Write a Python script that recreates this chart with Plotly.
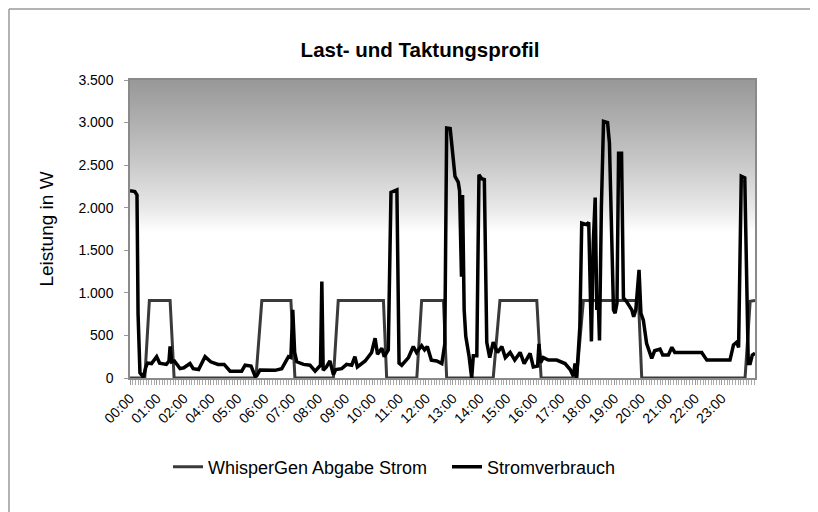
import plotly.graph_objects as go

# Category tick labels (note: 03:00 is absent in the original chart)
tick_labels = ["00:00", "01:00", "02:00", "04:00", "05:00", "06:00", "07:00", "08:00",
               "09:00", "10:00", "11:00", "12:00", "13:00", "14:00", "15:00", "16:00",
               "17:00", "18:00", "19:00", "20:00", "21:00", "22:00", "23:00"]
tick_pos = list(range(len(tick_labels)))
x_end = 23.23

# Stromverbrauch (W) - position in label units, value
strom_x = [0.00, 0.18, 0.26, 0.30, 0.37, 0.50, 0.58, 0.65, 0.80, 0.99, 1.10, 1.35, 1.45, 1.49, 1.55,
           1.65, 1.86, 2.00, 2.23, 2.35, 2.55, 2.79, 3.00, 3.27, 3.50, 3.72, 4.15, 4.28, 4.50, 4.65,
           4.72, 4.83, 5.39, 5.64, 5.89, 5.98, 6.05, 6.12, 6.20, 6.45, 6.69, 6.88, 7.08, 7.13, 7.18,
           7.30, 7.43, 7.56, 7.65, 7.87, 8.05, 8.24, 8.36, 8.45, 8.74, 8.98, 9.11, 9.20, 9.36, 9.45,
           9.60, 9.70, 9.92, 10.00, 10.10, 10.35, 10.53, 10.65, 10.84, 10.95, 11.05, 11.20, 11.40,
           11.59, 11.70, 11.77, 11.90, 12.00, 12.08, 12.20, 12.25, 12.32, 12.36, 12.42, 12.48, 12.60,
           12.70, 12.76, 12.89, 12.97, 13.07, 13.17, 13.26, 13.37, 13.50, 13.66, 13.82, 13.95, 14.13,
           14.30, 14.50, 14.65, 14.87, 14.99, 15.06, 15.15, 15.20, 15.26, 15.36, 15.55, 15.86, 16.17,
           16.36, 16.48, 16.54, 16.60, 16.72, 16.79, 16.98, 17.05, 17.15, 17.22, 17.29, 17.35, 17.40,
           17.45, 17.52, 17.60, 17.75, 17.82, 17.97, 18.03, 18.10, 18.16, 18.27, 18.34, 18.45, 18.65,
           18.72, 18.80, 18.92, 18.99, 19.08, 19.20, 19.39, 19.50, 19.70, 19.80, 20.01, 20.14, 20.25,
           20.45, 21.25, 21.44, 22.30, 22.43, 22.55, 22.62, 22.72, 22.85, 22.92, 22.98, 23.05, 23.13,
           23.23]
strom_y = [2200, 2190, 2150, 750, 60, 10, 120, 175, 170, 250, 175, 160, 200, 370, 190,
           200, 110, 120, 170, 110, 100, 250, 190, 160, 160, 80, 80, 150, 140, 20,
           30, 95, 90, 110, 250, 240, 800, 300, 190, 160, 150, 80, 150, 1133, 90,
           130, 200, 40, 100, 110, 160, 150, 250, 130, 200, 300, 467, 280, 350, 250,
           330, 2180, 2210, 175, 150, 240, 370, 300, 380, 330, 370, 210, 200,
           170, 400, 2936, 2930, 2600, 2367, 2300, 2200, 1190, 2150, 800, 490, 260,
           0, 260, 260, 2387, 2340, 2330, 420, 240, 420, 300, 370, 240, 300,
           210, 300, 170, 290, 130, 130, 140, 400, 180, 240, 210, 210, 170,
           100, 20, 170, 0, 600, 1820, 1800, 1830, 430, 1590, 2120, 800, 950,
           440, 2000, 3015, 3000, 2760, 800, 760, 880, 2640, 2640, 940, 900, 800,
           720, 800, 1270, 760, 680, 408, 230, 320, 340, 270, 270, 360, 300,
           300, 300, 210, 210, 388, 420, 360, 2370, 2350, 1390, 170, 170, 270,
           290]

# WhisperGen Abgabe Strom (W)
whisper_x = [0.00, 0.55, 0.72, 1.49, 1.64, 4.68, 4.90, 5.98, 6.13, 7.56, 7.74, 9.42, 9.54,
             10.66, 10.84, 11.65, 11.77, 13.50, 13.75, 15.12, 15.28, 16.60, 16.85, 18.90,
             19.02, 22.86, 23.05, 23.23]
whisper_y = [0, 0, 910, 910, 0, 0, 910, 910, 0, 0, 910, 910, 0,
             0, 910, 910, 0, 0, 910, 910, 0, 0, 910, 910,
             0, 0, 900, 910]

FONT = "Arial, Liberation Sans, sans-serif"
W, H = 810, 504

fig = go.Figure()

# gradient plot background
fig.add_trace(go.Scatter(
    x=[0, x_end, x_end, 0, 0], y=[0, 0, 3500, 3500, 0],
    mode="lines", fill="toself", line=dict(width=0),
    fillgradient=dict(type="vertical", start=0, stop=3500,
                      colorscale=[[0, "rgb(255,255,255)"], [0.49, "rgb(255,255,255)"],
                                  [0.57, "rgb(232,232,232)"], [0.714, "rgb(202,202,202)"],
                                  [0.857, "rgb(176,176,176)"], [1, "rgb(152,152,152)"]]),
    hoverinfo="skip", showlegend=False))

fig.add_trace(go.Scatter(x=whisper_x, y=whisper_y, mode="lines",
                         name="WhisperGen Abgabe Strom",
                         line=dict(color="#3a3a3a", width=3)))
fig.add_trace(go.Scatter(x=strom_x, y=strom_y, mode="lines",
                         name="Stromverbrauch",
                         line=dict(color="#000000", width=3.5)))

fig.update_layout(
    width=W, height=H,
    margin=dict(l=122, r=63, t=72, b=134),
    paper_bgcolor="white", plot_bgcolor="white",
    separators=",.",
    font=dict(family=FONT, color="black", size=13),
    title=dict(text="<b>Last- und Taktungsprofil</b>", x=412 / W, xanchor="center",
               y=1 - 42 / H, yanchor="middle", font=dict(size=20.5, family=FONT)),
    xaxis=dict(range=[0, x_end], tickvals=tick_pos, ticktext=tick_labels,
               tickangle=-45, showgrid=False, zeroline=False,
               showline=True, linecolor="#8a8a8a", linewidth=1.5, mirror=True,
               ticks="outside", ticklen=5, tickcolor="#9a9a9a",
               minor=dict(dtick=0.1, tick0=0, ticks="outside", ticklen=5, tickcolor="#aaaaaa"),
               tickfont=dict(size=14, family=FONT)),
    yaxis=dict(range=[0, 3500], dtick=500, tickformat=",d", showgrid=False,
               zeroline=False, showline=True, linecolor="#8a8a8a", linewidth=1.5, mirror=True,
               ticks="outside", ticklen=4, tickcolor="#9a9a9a", ticklabelstandoff=8,
               tickfont=dict(size=14, family=FONT),
               title=dict(text="Leistung in W", font=dict(size=19, family=FONT), standoff=20)),
    legend=dict(orientation="h", x=0.0608, xanchor="left", y=-0.2987, yanchor="middle",
                entrywidth=234, entrywidthmode="pixels",
                font=dict(size=18, family=FONT), bgcolor="rgba(0,0,0,0)"),
    shapes=[
        dict(type="line", xref="paper", yref="paper", x0=-0.1936, x1=1.11, y0=1.238, y1=1.238,
             line=dict(color="#9a9a9a", width=1.5)),
        dict(type="line", xref="paper", yref="paper", x0=-0.1936, x1=-0.1936, y0=1.238, y1=-0.46,
             line=dict(color="#9a9a9a", width=1.5)),
    ],
)

fig.write_html("out.html")
